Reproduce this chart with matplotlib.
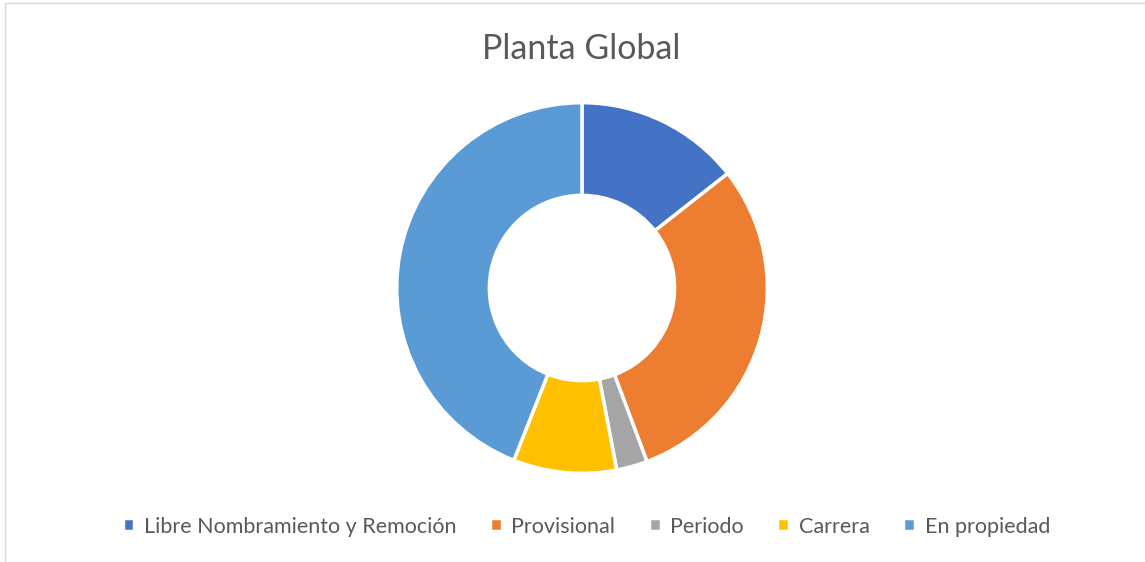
import matplotlib.pyplot as plt
from matplotlib.patches import Rectangle

# data (percent of total)
categories = ['Libre Nombramiento y Remoción', 'Provisional', 'Periodo', 'Carrera', 'En propiedad']
shares = [14.4, 29.9, 2.7, 9.0, 44.0]
colors = ['#4472C4', '#ED7D31', '#A5A5A5', '#FFC000', '#5B9BD5']

plt.rcParams['font.family'] = ['Lato', 'DejaVu Sans']

fig = plt.figure(figsize=(11.45, 5.62), dpi=100)
fig.patches.append(Rectangle((0.004, -0.01), 1.2, 1.004, transform=fig.transFigure,
                             fill=False, edgecolor='#D9D9D9', linewidth=1))

# square axes around the ring centre
w = 378 / 1145
h = 378 / 562
ax = fig.add_axes([582 / 1145 - w / 2, (562 - 288) / 562 - h / 2, w, h])
wedges, _ = ax.pie(shares, colors=colors, startangle=90, counterclock=False,
                   radius=1.0,
                   wedgeprops=dict(width=0.5, edgecolor='white', linewidth=2.5))
ax.set_aspect('equal')
ax.set_xlim(-1.02, 1.02)
ax.set_ylim(-1.02, 1.02)

fig.text(0.508, 0.913, 'Planta Global', ha='center', va='center',
         fontsize=24.5, color='#595959')

leg = fig.legend(wedges, categories, loc='center', bbox_to_anchor=(0.512, 0.063),
                 ncol=5, frameon=False, fontsize=15.5, handlelength=0.55, handleheight=0.55,
                 handletextpad=0.45, columnspacing=1.55)
for t in leg.get_texts():
    t.set_color('#595959')

fig.savefig('out.png', dpi=100)
